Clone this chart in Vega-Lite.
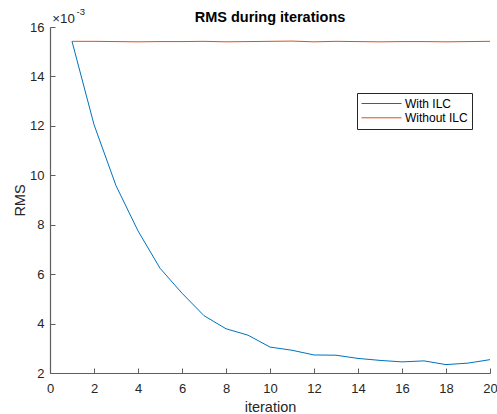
{
  "$schema": "https://vega.github.io/schema/vega-lite/v6.json",
  "autosize": {"type": "none"},
  "padding": {"left": 50, "top": 27, "right": 7, "bottom": 41},
  "width": 440,
  "height": 346,
  "background": "white",
  "title": {"text": "RMS during iterations", "font": "Liberation Sans", "fontSize": 14.5, "fontWeight": "bold", "color": "#000000", "anchor": "middle", "baseline": "alphabetic", "offset": -29},
  "config": {"view": {"stroke": null}, "font": "Liberation Sans"},
  "datasets": {
    "rms": [
      {"iteration": 1, "rms": 0.01542, "series": "With ILC"},
      {"iteration": 2, "rms": 0.01205, "series": "With ILC"},
      {"iteration": 3, "rms": 0.00958, "series": "With ILC"},
      {"iteration": 4, "rms": 0.00775, "series": "With ILC"},
      {"iteration": 5, "rms": 0.00624, "series": "With ILC"},
      {"iteration": 6, "rms": 0.00523, "series": "With ILC"},
      {"iteration": 7, "rms": 0.00432, "series": "With ILC"},
      {"iteration": 8, "rms": 0.00379, "series": "With ILC"},
      {"iteration": 9, "rms": 0.00353, "series": "With ILC"},
      {"iteration": 10, "rms": 0.00305, "series": "With ILC"},
      {"iteration": 11, "rms": 0.00292, "series": "With ILC"},
      {"iteration": 12, "rms": 0.00273, "series": "With ILC"},
      {"iteration": 13, "rms": 0.00272, "series": "With ILC"},
      {"iteration": 14, "rms": 0.00259, "series": "With ILC"},
      {"iteration": 15, "rms": 0.00251, "series": "With ILC"},
      {"iteration": 16, "rms": 0.00245, "series": "With ILC"},
      {"iteration": 17, "rms": 0.00249, "series": "With ILC"},
      {"iteration": 18, "rms": 0.00234, "series": "With ILC"},
      {"iteration": 19, "rms": 0.0024, "series": "With ILC"},
      {"iteration": 20, "rms": 0.00254, "series": "With ILC"},
      {"iteration": 1, "rms": 0.01542, "series": "Without ILC"},
      {"iteration": 2, "rms": 0.01542, "series": "Without ILC"},
      {"iteration": 3, "rms": 0.01541, "series": "Without ILC"},
      {"iteration": 4, "rms": 0.0154, "series": "Without ILC"},
      {"iteration": 5, "rms": 0.01541, "series": "Without ILC"},
      {"iteration": 6, "rms": 0.01541, "series": "Without ILC"},
      {"iteration": 7, "rms": 0.01542, "series": "Without ILC"},
      {"iteration": 8, "rms": 0.0154, "series": "Without ILC"},
      {"iteration": 9, "rms": 0.01541, "series": "Without ILC"},
      {"iteration": 10, "rms": 0.01542, "series": "Without ILC"},
      {"iteration": 11, "rms": 0.01543, "series": "Without ILC"},
      {"iteration": 12, "rms": 0.0154, "series": "Without ILC"},
      {"iteration": 13, "rms": 0.01542, "series": "Without ILC"},
      {"iteration": 14, "rms": 0.01541, "series": "Without ILC"},
      {"iteration": 15, "rms": 0.0154, "series": "Without ILC"},
      {"iteration": 16, "rms": 0.01541, "series": "Without ILC"},
      {"iteration": 17, "rms": 0.01541, "series": "Without ILC"},
      {"iteration": 18, "rms": 0.0154, "series": "Without ILC"},
      {"iteration": 19, "rms": 0.01541, "series": "Without ILC"},
      {"iteration": 20, "rms": 0.01542, "series": "Without ILC"}
    ]
  },
  "layer": [
    {
      "data": {"name": "rms"},
      "mark": {"type": "line", "strokeWidth": 1},
      "encoding": {
        "x": {"field": "iteration", "type": "quantitative",
          "scale": {"domain": [0, 20], "nice": false, "zero": false},
          "axis": {"title": "iteration", "values": [0,2,4,6,8,10,12,14,16,18,20], "grid": false, "labelFlush": false, "labelOverlap": false,
            "domainColor": "#5e5e5e", "domainWidth": 1.2, "tickColor": "#5e5e5e", "tickWidth": 1, "tickSize": -5, "labelPadding": 14,
            "labelFont": "Liberation Sans", "labelFontSize": 13, "labelColor": "#262626",
            "titleFont": "Liberation Sans", "titleFontSize": 14.5, "titleFontWeight": "normal", "titleColor": "#262626",
            "titleBaseline": "alphabetic", "titleY": 38}},
        "y": {"field": "rms", "type": "quantitative",
          "scale": {"domain": [0.002, 0.016], "nice": false, "zero": false},
          "axis": {"title": "RMS", "values": [0.002,0.004,0.006,0.008,0.01,0.012,0.014,0.016], "grid": false, "labelFlush": false, "labelOverlap": false,
            "labelExpr": "format(datum.value*1000, 'd')",
            "domainColor": "#5e5e5e", "domainWidth": 1.2, "tickColor": "#5e5e5e", "tickWidth": 1, "tickSize": -5, "labelPadding": 11,
            "labelFont": "Liberation Sans", "labelFontSize": 13, "labelColor": "#262626",
            "titleFont": "Liberation Sans", "titleFontSize": 14.5, "titleFontWeight": "normal", "titleColor": "#262626",
            "titleBaseline": "middle", "titleX": -30, "titleY": 173}},
        "color": {"field": "series", "type": "nominal",
          "scale": {"domain": ["With ILC", "Without ILC"], "range": ["#0072BD", "#D95319"]},
          "legend": {"title": null, "orient": "none", "legendX": 307, "legendY": 66,
            "symbolType": "stroke", "symbolSize": 1600, "symbolStrokeWidth": 1,
            "clipHeight": 13, "rowPadding": 1.3,
            "strokeColor": "#262626", "fillColor": "white", "padding": 4,
            "labelFont": "Liberation Sans", "labelFontSize": 12, "labelColor": "#000000", "labelOffset": 3}}
      }
    },
    {
      "data": {"values": [{}]},
      "mark": {"type": "text", "align": "left", "baseline": "alphabetic", "dx": 2.3, "dy": -3.7, "fontSize": 13.3, "color": "#262626", "font": "Liberation Sans"},
      "encoding": {"x": {"datum": 0, "type": "quantitative"}, "y": {"datum": 0.016, "type": "quantitative"}, "text": {"value": "×10"}}
    },
    {
      "data": {"values": [{}]},
      "mark": {"type": "text", "align": "left", "baseline": "alphabetic", "dx": 26.5, "dy": -12, "fontSize": 9.5, "color": "#262626", "font": "Liberation Sans"},
      "encoding": {"x": {"datum": 0, "type": "quantitative"}, "y": {"datum": 0.016, "type": "quantitative"}, "text": {"value": "-3"}}
    }
  ]
}
